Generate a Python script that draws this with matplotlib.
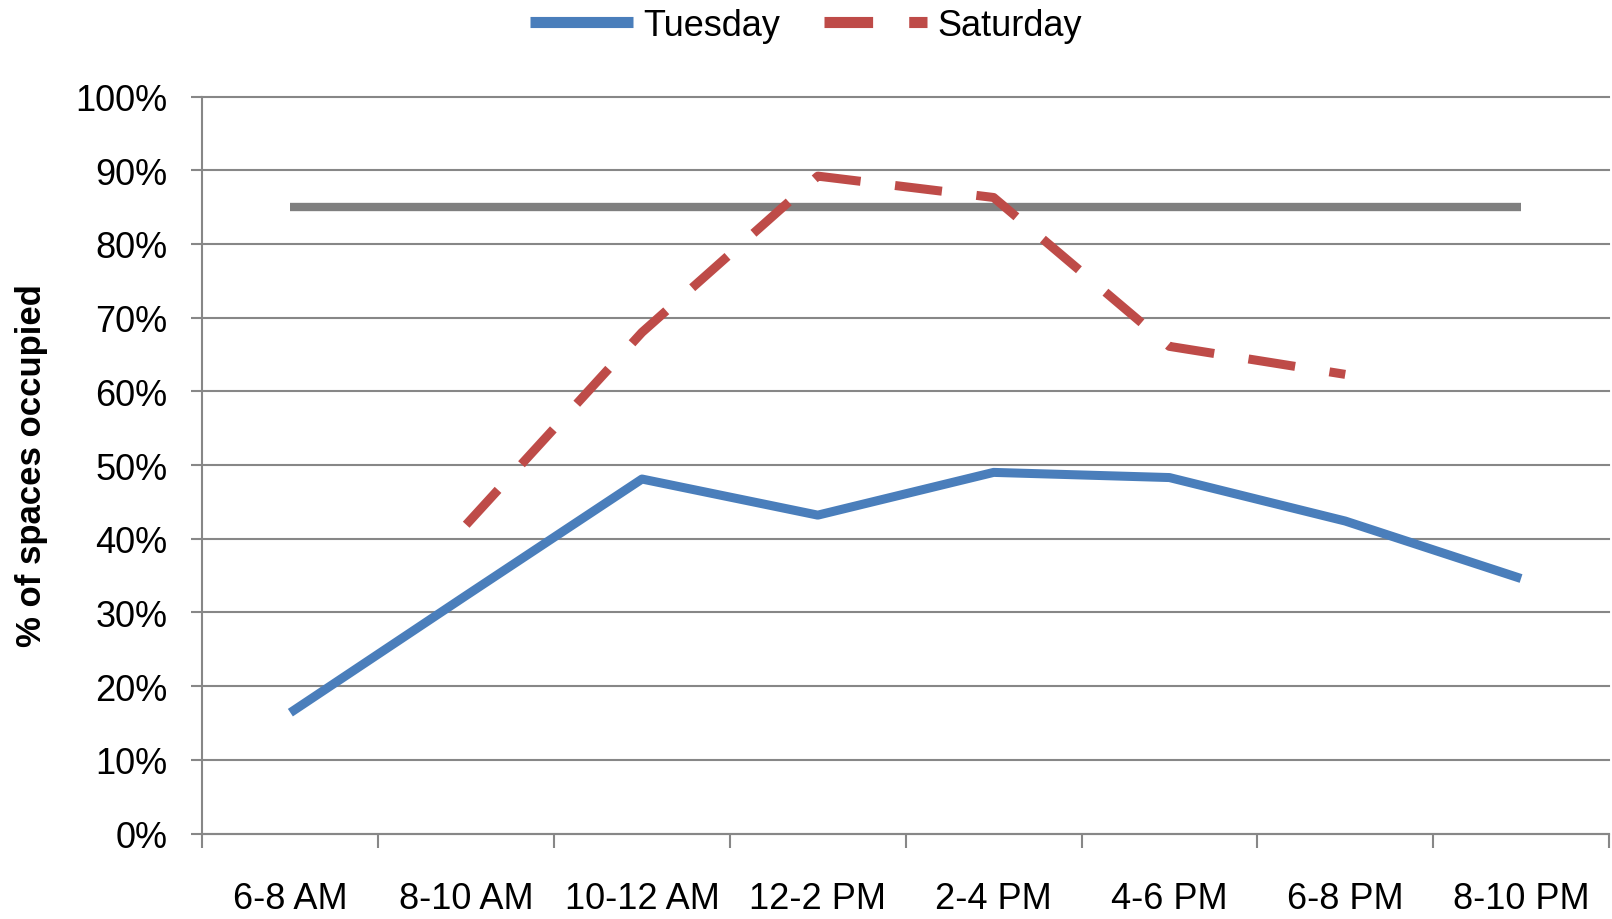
import numpy as np
import matplotlib
matplotlib.use('Agg')
import matplotlib.pyplot as plt

# data (percent of spaces occupied)
periods = ['6-8 AM', '8-10 AM', '10-12 AM', '12-2 PM', '2-4 PM', '4-6 PM', '6-8 PM', '8-10 PM']
tuesday = [16.4, 32.3, 48.1, 43.2, 49.0, 48.3, 42.4, 34.6]
saturday = [np.nan, 41.9, 68.0, 89.2, 86.3, 66.1, 62.3, np.nan]
target = [85, 85, 85, 85, 85, 85, 85, 85]
yticks = list(range(0, 101, 10))

plt.rcParams['font.family'] = ['Liberation Sans', 'DejaVu Sans']
plt.rcParams['lines.scale_dashes'] = False

blue = '#4A7EBB'
red = '#BE4B48'
grid_c = '#878787'
fs = 26

fig = plt.figure(figsize=(16.12, 9.2), dpi=100)
ax = fig.add_axes([0.1256, 0.0929, 0.8725, 0.8011])

x = np.arange(len(periods))
ax.plot(x, target, color='#7F7F7F', lw=6, solid_capstyle='butt', zorder=3)
ax.plot(x, tuesday, color=blue, lw=6.5, solid_capstyle='butt', zorder=4, label='Tuesday')
sat, = ax.plot(x, saturday, color=red, lw=6.5, zorder=4, label='Saturday')
sat.set_dashes([34, 25])
sat.set_dash_capstyle('butt')

ax.set_xlim(-0.5, len(periods) - 0.5)
ax.set_ylim(0, 100)
ax.set_yticks(yticks)
ax.set_yticklabels([f'{v}%' for v in yticks])
ax.set_xticks(x)
ax.set_xticklabels(periods)
ax.set_xticks(np.arange(-0.5, len(periods)), minor=True)

ax.tick_params(axis='x', which='major', length=0, pad=34, labelsize=fs)
ax.tick_params(axis='x', which='minor', length=10, width=1.5, color=grid_c, direction='out')
ax.tick_params(axis='y', length=8, width=1.5, color=grid_c, pad=17, labelsize=fs)

ax.grid(axis='y', color=grid_c, lw=1.5, zorder=1)
for gl in ax.get_ygridlines():
    gl.set_clip_on(False)
for s in ['top', 'right']:
    ax.spines[s].set_visible(False)
for s in ['left', 'bottom']:
    ax.spines[s].set_color(grid_c)
    ax.spines[s].set_linewidth(1.5)

ax.set_ylabel('% of spaces occupied', fontsize=25, fontweight='bold', va='center')
ax.yaxis.set_label_coords(-0.1213, 0.5)

leg = fig.legend(loc='center', bbox_to_anchor=(0.5, 1 - 26 / 920), ncol=2, frameon=False,
                 fontsize=fs, handlelength=2.85, handletextpad=0.28, columnspacing=1.22)
lines = leg.get_lines()
for ln in lines:
    ln.set_linewidth(8)
lines[1].set_dashes([35, 26])

fig.savefig('out.png', dpi=100)
